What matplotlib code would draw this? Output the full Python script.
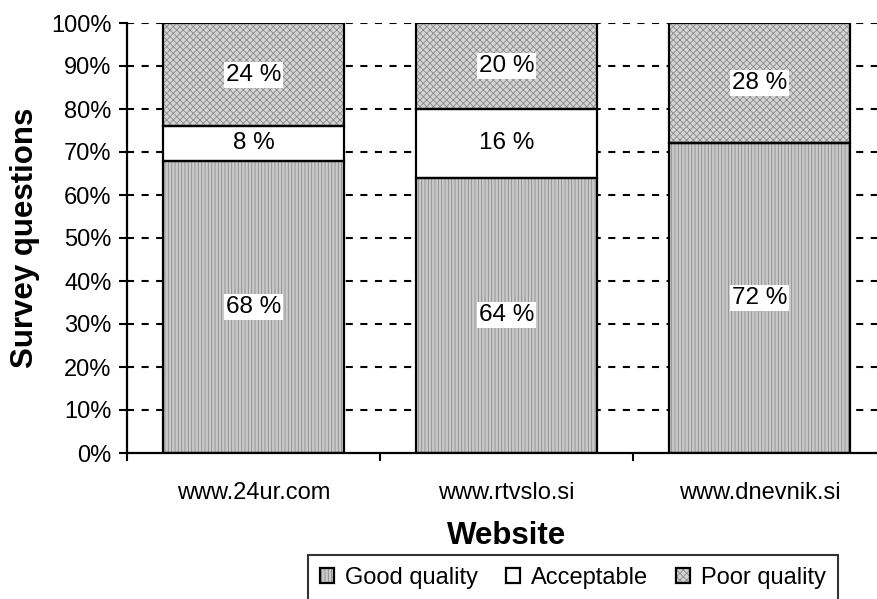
import matplotlib.pyplot as plt
import matplotlib.patches as mpatches
import numpy as np

plt.rcParams['font.family'] = ['Liberation Sans', 'DejaVu Sans']
plt.rcParams['hatch.linewidth'] = 0.6

websites = ['www.24ur.com', 'www.rtvslo.si', 'www.dnevnik.si']
series = ['Good quality', 'Acceptable', 'Poor quality']
good = [68, 64, 72]
acceptable = [8, 16, 0]
poor = [24, 20, 28]
yticks = [0, 10, 20, 30, 40, 50, 60, 70, 80, 90, 100]

values = [good, acceptable, poor]
faces = ['#cacaca', 'white', '#d4d4d4']
hatches = ['|||||', None, 'xxxxx']
hatch_cols = ['#8a8a8a', 'white', '#8a8a8a']

fig = plt.figure(figsize=(8.77, 5.99), dpi=100)
ax = fig.add_axes([127 / 877, 1 - 453 / 599, 759 / 877, 430 / 599])

x = np.arange(len(websites))
width = 0.716
bottom = np.zeros(len(websites))
handles = []
for vals, fc, h, hc, name in zip(values, faces, hatches, hatch_cols, series):
    vals = np.array(vals, dtype=float)
    ax.bar(x, vals, width, bottom=bottom, color=fc, edgecolor=hc, hatch=h,
           linewidth=0, zorder=2)
    ax.bar(x, vals, width, bottom=bottom, facecolor='none', edgecolor='black',
           linewidth=1.6, zorder=3)
    for xi, v, b in zip(x, vals, bottom):
        if v > 0:
            ax.text(xi, b + v / 2, '%d %%' % v, ha='center', va='center',
                    fontsize=17.5, zorder=4,
                    bbox=dict(boxstyle='square,pad=0.08', fc='white', ec='none'))
    bottom += vals
    p1 = mpatches.Patch(facecolor=fc, edgecolor=hc, hatch=h, linewidth=0)
    p2 = mpatches.Patch(facecolor='none', edgecolor='black', linewidth=1.6)
    handles.append((p1, p2))

ax.set_xlim(-0.5, 2.5)
ax.set_ylim(0, 100)
ax.set_yticks(yticks)
ax.set_yticklabels(['%d%%' % t for t in yticks], fontsize=17)
for t in yticks[1:]:
    ax.axhline(t, color='black', linewidth=1.5, linestyle=(0, (3.4, 3.6)), zorder=1)

ax.set_xticks([-0.5, 0.5, 1.5, 2.5])
ax.set_xticklabels([])
ax.set_xticks(x, minor=True)
ax.set_xticklabels(websites, minor=True, fontsize=17)
ax.tick_params(axis='x', which='minor', length=0, pad=21)
ax.tick_params(axis='x', which='major', length=6, width=1.5, direction='out')
ax.tick_params(axis='y', length=6, width=1.5, direction='out', pad=5)

for s in ['top', 'right']:
    ax.spines[s].set_visible(False)
for s in ['left', 'bottom']:
    ax.spines[s].set_linewidth(1.6)

ax.set_xlabel('Website', fontsize=22.5, fontweight='bold', labelpad=12)
ax.set_ylabel('Survey questions', fontsize=22.5, fontweight='bold', labelpad=8)

leg = fig.legend(handles, series, loc='upper center',
                 bbox_to_anchor=(573 / 877, 1 - 555 / 599), ncol=3, fontsize=17,
                 frameon=True, fancybox=False, handlelength=0.6, handleheight=0.6,
                 handletextpad=0.45, columnspacing=1.2, borderpad=0.5,
                 borderaxespad=0)
leg.get_frame().set_edgecolor('black')
leg.get_frame().set_linewidth(1.5)

fig.savefig('out.png', dpi=100)
